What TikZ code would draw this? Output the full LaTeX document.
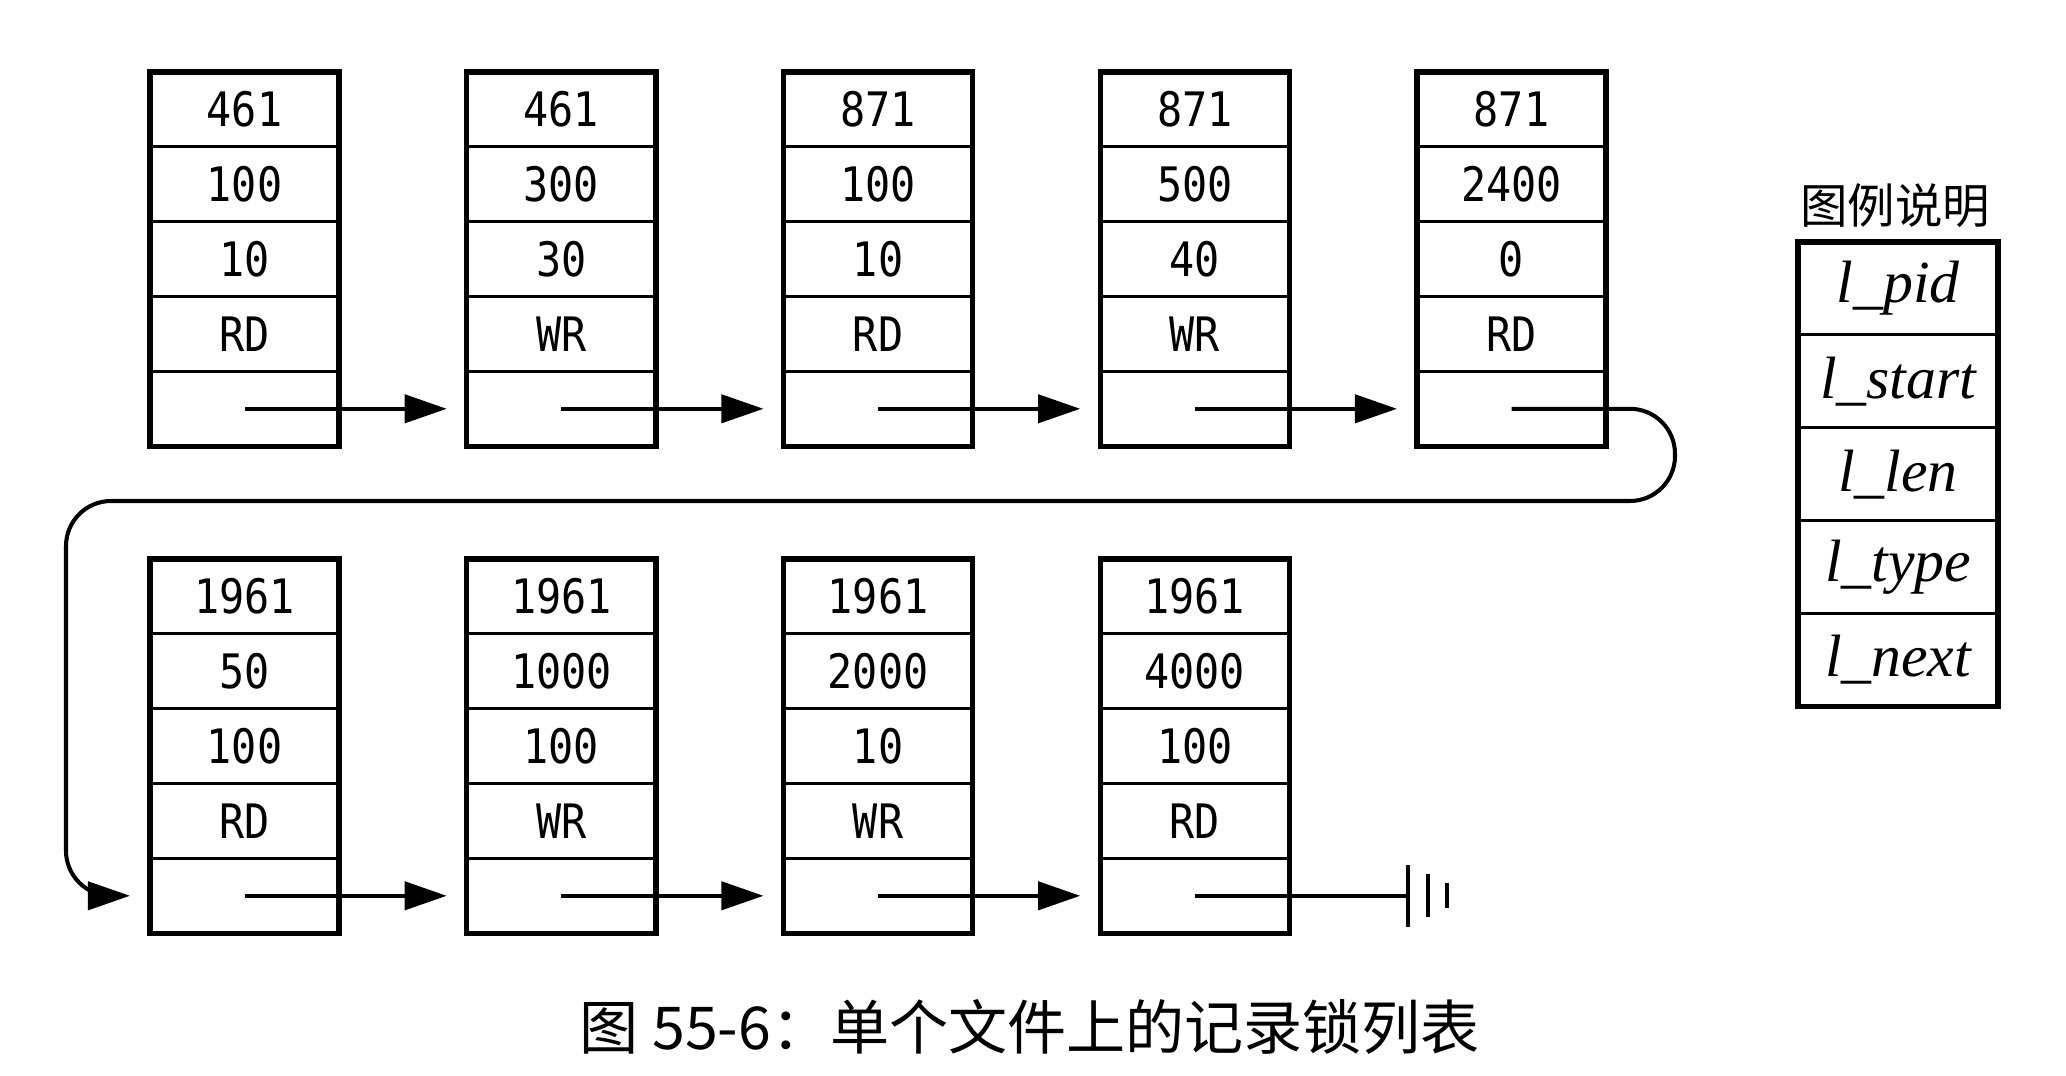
\documentclass[tikz,border=0pt]{standalone}
\usepackage{fontspec}
\usepackage{tikz}
\usetikzlibrary{positioning,arrows.meta}
\newfontfamily\cellfont[FakeStretch=0.88]{DejaVu Sans Mono}
\newfontfamily\cjkfont{Noto Sans CJK SC}
\newfontfamily\legendfont{Liberation Serif}
\tikzset{cell/.style={draw,line width=0.9pt,outer sep=0pt,inner sep=0pt,minimum width=1.89cm,minimum height=0.748cm,font=\cellfont\fontsize{13.5}{14}\selectfont}}
\tikzset{legcell/.style={draw,line width=0.9pt,outer sep=0pt,inner sep=0pt,minimum width=2cm,minimum height=0.928cm,font=\legendfont\itshape\fontsize{17}{18}\selectfont}}
\tikzset{frame/.style={line width=1.5pt}}
\tikzset{link/.style={line width=1.15pt,-{Triangle[length=12pt,width=8pt]},shorten >=0.2cm}}
\tikzset{wire/.style={line width=1.15pt}}

\begin{document}
\begin{tikzpicture}[x=0.01cm,y=-0.01cm]
    \useasboundingbox (0,0) rectangle (2066,1076);
    \foreach \n/\x/\y/\pid/\start/\len/\type in {a/150/72/461/100/10/RD,b/466.75/72/461/300/30/WR,c/783.5/72/871/100/10/RD,d/1100.25/72/871/500/40/WR,e/1417/72/871/2400/0/RD,f/150/559/1961/50/100/RD,g/466.75/559/1961/1000/100/WR,h/783.5/559/1961/2000/10/WR,i/1100.25/559/1961/4000/100/RD}{
        \node[cell,anchor=north west] (\n1) at (\x,\y) {\pid};
        \node[cell,below=0pt of \n1] (\n2) {\start};
        \node[cell,below=0pt of \n2] (\n3) {\len};
        \node[cell,below=0pt of \n3] (\n4) {\type};
        \node[cell,below=0pt of \n4] (\n5) {};
        \draw[frame] (\n1.north west) rectangle (\n5.south east);
    }
    \draw[link] (a5.center) -- (b5.west);
    \draw[link] (b5.center) -- (c5.west);
    \draw[link] (c5.center) -- (d5.west);
    \draw[link] (d5.center) -- (e5.west);
    \draw[link] (f5.center) -- (g5.west);
    \draw[link] (g5.center) -- (h5.west);
    \draw[link] (h5.center) -- (i5.west);
    \coordinate (turnR) at (1675,501);
    \coordinate (turnL) at (66,501);
    \coordinate (bendL) at (turnL |- f5.west);
    \draw[link,rounded corners=0.45cm] (e5.center) -| (turnR) -- (turnL) -- (bendL) [rounded corners=0.25cm] -- (f5.west);
    \draw[wire] (i5.center) -- ++(213.5,0) coordinate (gnd);
    \draw[wire] (gnd) ++(0,-31) -- ++(0,62);
    \draw[wire] (gnd) ++(20,-21.5) -- ++(0,43);
    \draw[wire] (gnd) ++(39,-12.5) -- ++(0,25);
    \node[font=\cjkfont\fontsize{13.5}{14}\selectfont] (legtitle) at (1895,206) {图例说明};
    \node[legcell,anchor=north west] (l1) at (1798,242) {l\_pid};
    \node[legcell,below=0pt of l1] (l2) {l\_start};
    \node[legcell,below=0pt of l2] (l3) {l\_len};
    \node[legcell,below=0pt of l3] (l4) {l\_type};
    \node[legcell,below=0pt of l4] (l5) {l\_next};
    \draw[frame] (l1.north west) rectangle (l5.south east);
    \node[font=\cjkfont\fontsize{16.8}{18}\selectfont] (caption) at (1030,1027) {图 55-6：单个文件上的记录锁列表};
\end{tikzpicture}
\end{document}
